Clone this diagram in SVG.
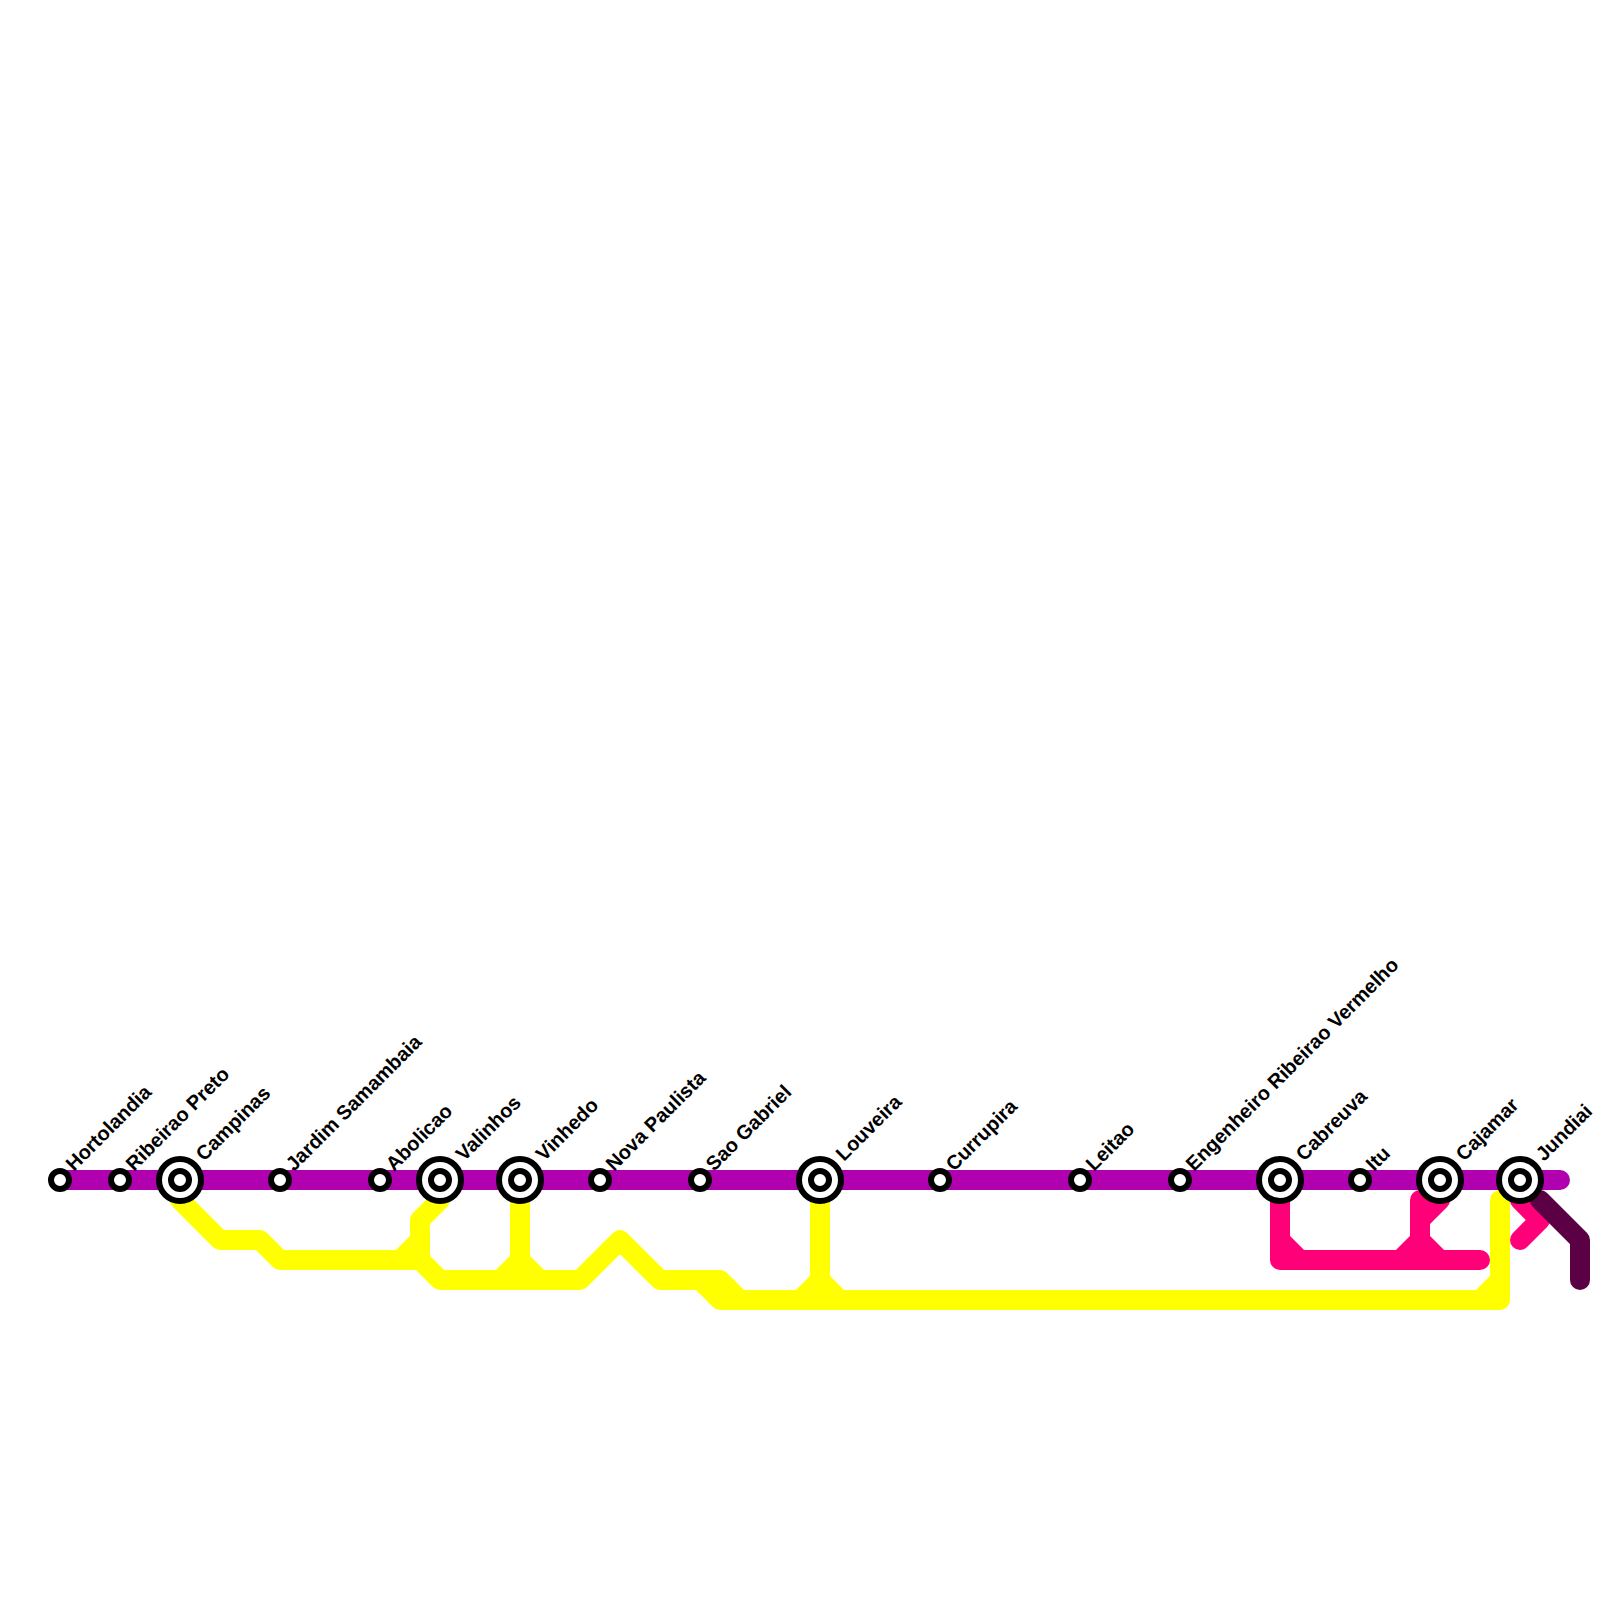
<svg xmlns="http://www.w3.org/2000/svg" width="1600" height="1600" viewBox="0 0 1600 1600">
<style>
.line{fill:none;stroke-width:20;stroke-linecap:round;stroke-linejoin:round}
.st{fill:#fff;stroke:#000;stroke-width:6}
text{font-family:"Liberation Sans",Arial,sans-serif;font-size:20px;font-weight:700;fill:#000;text-rendering:geometricPrecision}
</style>
<defs>
<g id="small"><circle class="st" r="9"/></g>
<g id="big"><circle class="st" r="21"/><circle class="st" r="9"/></g>
</defs>
<g id="connectors">
<path class="line" stroke="#b000b0" d="M60 1180H1560"/>
<path class="line" stroke="#ffff00" d="M180 1200L220 1240H260L280 1260H420L440 1280H580L620 1240L660 1280H720L740 1300M700 1280L720 1300H1500V1200M440 1200L420 1220V1260M420 1240L400 1260M520 1200V1260L500 1280M520 1260L540 1280M820 1200V1280L800 1300M820 1280L840 1300M1500 1280L1480 1300"/>
<path class="line" stroke="#ff0078" d="M1280 1200V1260H1480M1280 1240L1300 1260M1420 1200V1240L1400 1260M1420 1240L1440 1260M1440 1200L1420 1220M1520 1200L1540 1220L1520 1240"/>
<path class="line" stroke="#5c0046" d="M1540 1200L1580 1240V1280"/>
</g>
<g id="n-hortolandia"><use href="#small" x="60" y="1180"/><text transform="translate(74 1172) rotate(-45)">Hortolandia</text></g>
<g id="n-ribeirao"><use href="#small" x="120" y="1180"/><text transform="translate(134 1172) rotate(-45)">Ribeirao Preto</text></g>
<g id="n-campinas"><use href="#big" x="180" y="1180"/><text transform="translate(204 1162) rotate(-45)">Campinas</text></g>
<g id="n-jardim"><use href="#small" x="280" y="1180"/><text transform="translate(294 1172) rotate(-45)">Jardim Samambaia</text></g>
<g id="n-abolicao"><use href="#small" x="380" y="1180"/><text transform="translate(394 1172) rotate(-45)">Abolicao</text></g>
<g id="n-valinhos"><use href="#big" x="440" y="1180"/><text transform="translate(464 1162) rotate(-45)">Valinhos</text></g>
<g id="n-vinhedo"><use href="#big" x="520" y="1180"/><text transform="translate(544 1162) rotate(-45)">Vinhedo</text></g>
<g id="n-nova"><use href="#small" x="600" y="1180"/><text transform="translate(614 1172) rotate(-45)">Nova Paulista</text></g>
<g id="n-sao"><use href="#small" x="700" y="1180"/><text transform="translate(714 1172) rotate(-45)">Sao Gabriel</text></g>
<g id="n-louveira"><use href="#big" x="820" y="1180"/><text transform="translate(844 1162) rotate(-45)">Louveira</text></g>
<g id="n-currupira"><use href="#small" x="940" y="1180"/><text transform="translate(954 1172) rotate(-45)">Currupira</text></g>
<g id="n-leitao"><use href="#small" x="1080" y="1180"/><text transform="translate(1094 1172) rotate(-45)">Leitao</text></g>
<g id="n-engenheiro"><use href="#small" x="1180" y="1180"/><text transform="translate(1194 1172) rotate(-45)">Engenheiro Ribeirao Vermelho</text></g>
<g id="n-cabreuva"><use href="#big" x="1280" y="1180"/><text transform="translate(1304 1162) rotate(-45)">Cabreuva</text></g>
<g id="n-itu"><use href="#small" x="1360" y="1180"/><text transform="translate(1374 1172) rotate(-45)">Itu</text></g>
<g id="n-cajamar"><use href="#big" x="1440" y="1180"/><text transform="translate(1464 1162) rotate(-45)">Cajamar</text></g>
<g id="n-jundiai"><use href="#big" x="1520" y="1180"/><text transform="translate(1544 1162) rotate(-45)">Jundiai</text></g>
</svg>
